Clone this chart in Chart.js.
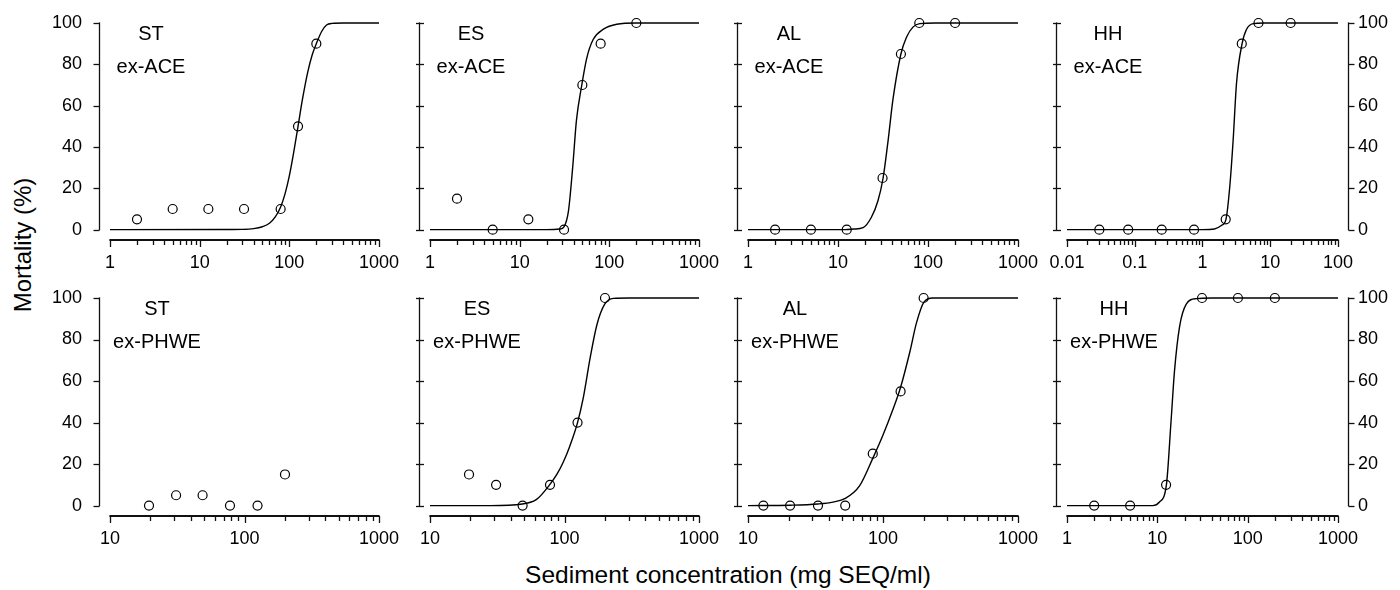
<!DOCTYPE html>
<html>
<head>
<meta charset="utf-8">
<script src="https://cdn.jsdelivr.net/npm/chart.js@4.4.1/dist/chart.umd.min.js"></script>
<style>
body{margin:0;background:#fff;width:1400px;height:590px;position:relative;overflow:hidden;font-family:"Liberation Sans",Arial,sans-serif;}
canvas{position:absolute;}
#ytitle{position:absolute;left:23px;top:245px;transform:translate(-50%,-50%) rotate(-90deg);font-size:24px;white-space:nowrap;color:#000;}
#xtitle{position:absolute;left:728px;top:575px;transform:translate(-50%,-50%);font-size:24.5px;white-space:nowrap;color:#000;}
</style>
</head>
<body>
<div id="ytitle">Mortality (%)</div>
<div id="xtitle">Sediment concentration (mg SEQ/ml)</div>
<script>
// panel names
var sites = ['ST', 'ES', 'AL', 'HH'];
var extracts = ['ex-ACE', 'ex-PHWE'];

// axis ticks
var yTicks = [0, 20, 40, 60, 80, 100];
var xTicks1 = [1, 10, 100, 1000];
var xTicks10 = [10, 100, 1000];
var xTicks001 = [0.01, 0.1, 1, 10, 100];

// ---- ex-ACE row: measured points ----
var stAceX = [2, 5, 12.5, 31.25, 80, 125, 200];
var stAceY = [5, 10, 10, 10, 10, 50, 90];
var esAceX = [2, 5, 12.5, 31.25, 50, 80, 200];
var esAceY = [15, 0, 5, 0, 70, 90, 100];
var alAceX = [2, 5, 12.5, 31.25, 50, 80, 200];
var alAceY = [0, 0, 0, 25, 85, 100, 100];
var hhAceX = [0.03, 0.08, 0.25, 0.75, 2.2, 3.8, 6.7, 20];
var hhAceY = [0, 0, 0, 0, 5, 90, 100, 100];

// ---- ex-ACE row: fitted curves ----
var stAceFitX = [1, 20, 30, 40, 50, 60, 70, 80, 90, 100, 112, 125, 140, 160, 180, 200, 230, 260, 300, 400, 1000];
var stAceFitY = [0, 0.05, 0.13, 0.5, 1.4, 3.1, 6.3, 11, 17.7, 26, 37.5, 50, 63, 76, 84.6, 90, 96, 99, 99.8, 100, 100];
var esAceFitX = [1, 20, 28, 31.3, 35, 39, 43, 49.3, 56, 66, 86, 121, 200, 1000];
var esAceFitY = [0, 0, 0.3, 1.5, 9, 30, 53, 70, 83, 92, 97, 99.4, 100, 100];
var alAceFitX = [1, 12, 15, 19, 23.5, 27.8, 31.7, 36, 40.8, 50, 57.5, 68, 81, 120, 1000];
var alAceFitY = [0, 0, 0.3, 1, 6, 14, 25, 43, 63, 85, 93, 98, 99.7, 100, 100];
var hhAceFitX = [0.01, 1, 1.5, 1.9, 2.22, 2.53, 2.83, 3.18, 3.84, 4.47, 5.6, 8, 100];
var hhAceFitY = [0, 0, 0.3, 2, 5, 21, 43, 71, 90, 97, 99.7, 100, 100];

// ---- ex-PHWE row: measured points ----
var stPhwX = [19.5, 31, 48.8, 78, 125, 200];
var stPhwY = [0, 5, 5, 0, 0, 15];
var esPhwX = [19.5, 31, 48.8, 78, 125, 200];
var esPhwY = [15, 10, 0, 10, 40, 100];
var alPhwX = [13, 20.5, 33, 52.5, 84, 135, 200];
var alPhwY = [0, 0, 0, 0, 25, 55, 100];
var hhPhwX = [2, 5, 12.5, 31.25, 78, 200];
var hhPhwY = [0, 0, 10, 100, 100, 100];

// ---- ex-PHWE row: fitted curves (ST has none) ----
var esPhwFitX = [10, 28, 48.6, 62, 77.4, 87.7, 98, 110, 125, 138, 155, 174, 199, 231, 300, 1000];
var esPhwFitY = [0, 0, 0.8, 3, 10, 15, 21, 29, 40, 52, 71, 87, 97, 99.8, 100, 100];
var alPhwFitX = [10, 20.6, 33, 42.6, 52.6, 67, 84.3, 100, 118, 135, 158, 177, 201, 234, 300, 1000];
var alPhwFitY = [0, 0.2, 0.8, 1.7, 3.5, 9.5, 23, 34, 46, 57, 74, 88, 98, 100, 100, 100];
var hhPhwFitX = [1, 8.9, 10.5, 12.6, 14.2, 15.5, 17.6, 20.9, 27, 40, 1000];
var hhPhwFitY = [0, 0, 1.6, 10, 41, 65, 86, 97, 99.7, 100, 100];

function pts(xs, ys) {
  var out = [];
  for (var i = 0; i < xs.length; i++) out.push({x: xs[i], y: ys[i]});
  return out;
}

var panels = [
  {row: 0, col: 0, px: stAceX, py: stAceY, fx: stAceFitX, fy: stAceFitY, xt: xTicks1},
  {row: 0, col: 1, px: esAceX, py: esAceY, fx: esAceFitX, fy: esAceFitY, xt: xTicks1},
  {row: 0, col: 2, px: alAceX, py: alAceY, fx: alAceFitX, fy: alAceFitY, xt: xTicks1},
  {row: 0, col: 3, px: hhAceX, py: hhAceY, fx: hhAceFitX, fy: hhAceFitY, xt: xTicks001},
  {row: 1, col: 0, px: stPhwX, py: stPhwY, fx: [], fy: [], xt: xTicks10},
  {row: 1, col: 1, px: esPhwX, py: esPhwY, fx: esPhwFitX, fy: esPhwFitY, xt: xTicks10},
  {row: 1, col: 2, px: alPhwX, py: alPhwY, fx: alPhwFitX, fy: alPhwFitY, xt: xTicks10},
  {row: 1, col: 3, px: hhPhwX, py: hhPhwY, fx: hhPhwFitX, fy: hhPhwFitY, xt: xTicks1}
];

// layout (pixels)
var colLeft = [99, 419, 737, 1056];
var colRight = [379, 699, 1018, 1338];
var rowTop = [23, 298];
var rowAxis = [240, 516];
var gap = 11;      // x axis starts right of the y axis
var padL = 70, padT = 20, padR = 60, padB = 40;

Chart.defaults.font.family = '"Liberation Sans", Arial, sans-serif';
Chart.defaults.color = '#000';

function seg(ctx, x1, y1, x2, y2) {
  ctx.beginPath();
  ctx.moveTo(x1, y1);
  ctx.lineTo(x2, y2);
  ctx.stroke();
}

// SigmaPlot style detached axes + panel labels
var sigmaAxes = {
  id: 'sigmaAxes',
  afterDatasetsDraw: function(chart, args, o) {
    var ctx = chart.ctx, xs = chart.scales.x, ys = chart.scales.y, a = chart.chartArea;
    var y0 = ys.getPixelForValue(0), y100 = ys.getPixelForValue(100);
    var ax = Math.round(a.left) + 0.5, ab = Math.round(a.bottom);
    var i, k, v, q;
    ctx.save();
    ctx.strokeStyle = '#111';
    ctx.lineWidth = 1.3;
    seg(ctx, ax, y0 + 0.6, ax, y100 - 0.6);
    for (i = 0; i < yTicks.length; i++) {
      q = Math.round(ys.getPixelForValue(yTicks[i])) + 0.5;
      if (o.inner) seg(ctx, ax - 3.5, q, ax + 4.5, q);
      else seg(ctx, ax - 6, q, ax, q);
    }
    if (o.right) {
      var rx = Math.round(a.right) + 10.5;
      seg(ctx, rx, y0 + 0.6, rx, y100 - 0.6);
      for (i = 0; i < yTicks.length; i++) {
        q = Math.round(ys.getPixelForValue(yTicks[i])) + 0.5;
        seg(ctx, rx, q, rx + 6, q);
      }
    }
    // x axis with log minor ticks
    var first = o.xt[0], last = o.xt[o.xt.length - 1];
    ctx.lineWidth = 1.8;
    seg(ctx, xs.getPixelForValue(first) - 0.6, ab, xs.getPixelForValue(last) + 0.6, ab);
    ctx.lineWidth = 1.3;
    for (i = 0; i < o.xt.length; i++) {
      for (k = 1; k <= 9; k++) {
        if (i === o.xt.length - 1 && k > 1) break;
        v = o.xt[i] * k;
        q = Math.round(xs.getPixelForValue(v)) + 0.5;
        seg(ctx, q, ab, q, ab + (k === 1 ? 7 : 5));
      }
    }
    // panel labels
    ctx.fillStyle = '#000';
    ctx.font = '20px "Liberation Sans", Arial, sans-serif';
    ctx.textAlign = 'center';
    ctx.textBaseline = 'middle';
    ctx.fillText(o.site, a.left + o.dx, y100 + 11);
    ctx.fillText(o.ext, a.left + o.dx, y100 + 44);
    ctx.restore();
  }
};

function fixedTicks(s) {
  s.ticks = yTicks.map(function(v) { return {value: v}; });
}

panels.forEach(function(p) {
  var x0 = colLeft[p.col], x1 = colRight[p.col];
  var top = rowTop[p.row], bottom = rowAxis[p.row];
  var cv = document.createElement('canvas');
  var w = x1 - x0 + padL + padR, h = bottom - top + padT + padB;
  cv.width = w; cv.height = h;
  cv.style.left = (x0 - padL) + 'px';
  cv.style.top = (top - padT) + 'px';
  document.body.appendChild(cv);

  var first = p.xt[0], last = p.xt[p.xt.length - 1];
  var xmin = first / Math.pow(last / first, gap / (x1 - x0 - gap));
  var isRight = p.col === 3;

  var scales = {
    x: {
      type: 'logarithmic', min: xmin, max: last,
      grid: {display: false, drawTicks: false}, border: {display: false},
      afterBuildTicks: function(s) { s.ticks = p.xt.map(function(v) { return {value: v}; }); },
      ticks: {autoSkip: false, maxRotation: 0, padding: 12, font: {size: 18},
        callback: function(v) { return String(v); }},
      afterFit: function(s) { s.height = padB; s.paddingLeft = 0; s.paddingRight = 0; }
    },
    y: {
      min: -5, max: 100, bounds: 'data',
      grid: {display: false, drawTicks: false}, border: {display: false},
      afterBuildTicks: fixedTicks,
      ticks: {display: p.col === 0, padding: 17, font: {size: 18}},
      afterFit: function(s) { s.width = padL; s.paddingTop = 0; s.paddingBottom = 0; }
    }
  };
  if (isRight) {
    scales.y2 = {
      position: 'right', min: -5, max: 100, bounds: 'data',
      grid: {display: false, drawTicks: false}, border: {display: false},
      afterBuildTicks: fixedTicks,
      ticks: {padding: 20, font: {size: 18}},
      afterFit: function(s) { s.width = padR; s.paddingTop = 0; s.paddingBottom = 0; }
    };
  }

  new Chart(cv, {
    type: 'scatter',
    data: {
      datasets: [
        {data: pts(p.px, p.py), pointRadius: 4.5, pointBorderWidth: 1.2, pointBorderColor: '#000',
         pointBackgroundColor: 'rgba(0,0,0,0)', clip: false},
        {data: pts(p.fx, p.fy), showLine: true, pointRadius: 0, borderColor: '#000', borderWidth: 1.4,
         cubicInterpolationMode: 'monotone', clip: false}
      ]
    },
    options: {
      responsive: false, animation: false, devicePixelRatio: 1,
      layout: {padding: {left: 0, top: padT, right: isRight ? 0 : padR, bottom: 0}},
      plugins: {
        legend: {display: false}, tooltip: {enabled: false},
        sigmaAxes: {inner: p.col > 0, right: isRight, xt: p.xt, site: sites[p.col],
                    ext: extracts[p.row], dx: p.row === 0 ? 52 : 58}
      },
      scales: scales
    },
    plugins: [sigmaAxes]
  });
});
</script>
</body>
</html>
